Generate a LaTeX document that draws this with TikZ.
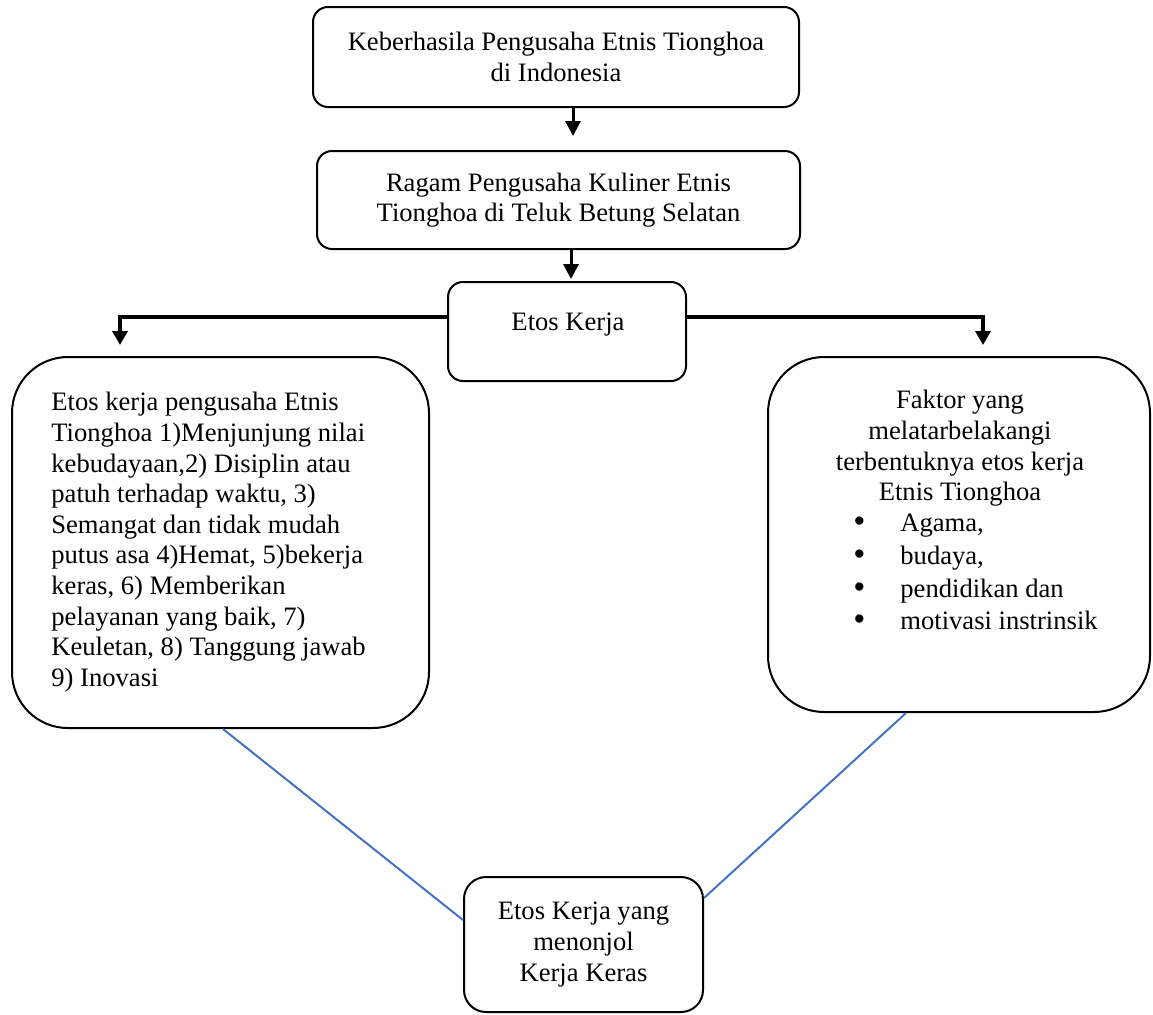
\documentclass[tikz,border=0pt]{standalone}
\usepackage{fontspec}
\setmainfont{Liberation Serif}
\usetikzlibrary{arrows.meta}
\definecolor{garisbiru}{RGB}{68,114,196}
\newcommand{\butir}{\makebox[23.5pt][l]{\smash{\raisebox{-0.5pt}{\scalebox{1.3}{\textbullet}}}}}
\tikzset{
	kotak/.style={draw, line width=1pt, rounded corners=7.5pt, inner sep=0pt, align=center},
	kotakbesar/.style={kotak, rounded corners=28pt},
	teks/.style={inner sep=0pt},
	panah/.style={line width=1.5pt, -{Triangle[length=7.5pt, width=7.5pt]}},
	cabang/.style={line width=2pt, -{Triangle[length=7pt, width=7.5pt]}},
	hubung/.style={line width=1pt, draw=garisbiru}
}
\begin{document}
\begin{tikzpicture}[x=0.5pt, y=-0.5pt, font=\fontsize{13.3pt}{15.3pt}\selectfont]
	\useasboundingbox (0,0) rectangle (1153,1014);
	% kotak-kotak
	\node[kotak, minimum width=243pt, minimum height=50pt] (sukses) at (556,57) {Keberhasila Pengusaha Etnis Tionghoa\\di Indonesia};
	\node[kotak, minimum width=241.5pt, minimum height=49pt] (ragam) at (558.5,200) {Ragam Pengusaha Kuliner Etnis\\Tionghoa di Teluk Betung Selatan};
	\node[kotak, minimum width=119pt, minimum height=49.5pt] (etos) at (567,331.5) {};
	\node[teks, anchor=base] (etosteks) at (568,330) {Etos Kerja};
	\node[kotakbesar, minimum width=208.5pt, minimum height=185.5pt] (kiri) at (220.5,542.5) {};
	\node[teks, align=left, anchor=north west] (kiriteks) at (51,392) {Etos kerja pengusaha Etnis\\Tionghoa 1)Menjunjung nilai\\kebudayaan,2) Disiplin atau\\patuh terhadap waktu, 3)\\Semangat dan tidak mudah\\putus asa 4)Hemat, 5)bekerja\\keras, 6) Memberikan\\pelayanan yang baik, 7)\\Keuletan, 8) Tanggung jawab\\9) Inovasi};
	\node[kotakbesar, minimum width=191pt, minimum height=177.5pt] (kanan) at (959,534.5) {};
	\node[teks, align=center, anchor=north] (faktorjudul) at (960,390) {Faktor yang\\melatarbelakangi\\terbentuknya etos kerja\\Etnis Tionghoa};
	\node[teks, align=left, anchor=north west] (faktorbutir) at (853,514) {\butir Agama,\\[1pt]\butir budaya,\\[1pt]\butir pendidikan dan\\[1pt]\butir motivasi instrinsik};
	\node[kotak, rounded corners=11pt, minimum width=119.5pt, minimum height=67.5pt] (hasil) at (583.5,944.5) {Etos Kerja yang\\menonjol\\Kerja Keras};
	% panah
	\draw[panah, shorten >=7pt] ([xshift=8.5pt]sukses.south) -- ([xshift=8.5pt]sukses.south |- ragam.north);
	\draw[panah, shorten >=1pt] ([xshift=6.25pt]ragam.south) -- ([xshift=6.25pt]ragam.south |- etos.north);
	\draw[cabang, shorten >=5.5pt] ([yshift=7.25pt]etos.west) -| ([xshift=-50.25pt]kiri.north);
	\draw[cabang, shorten >=5.5pt] ([yshift=7.25pt]etos.east) -| ([xshift=12pt]kanan.north);
	% garis biru
	\draw[hubung] ([xshift=1.25pt]kiri.south) -- ([yshift=12.25pt]hasil.west);
	\draw[hubung] ([xshift=-26.5pt]kanan.south) -- ([yshift=23.25pt]hasil.east);
\end{tikzpicture}
\end{document}
